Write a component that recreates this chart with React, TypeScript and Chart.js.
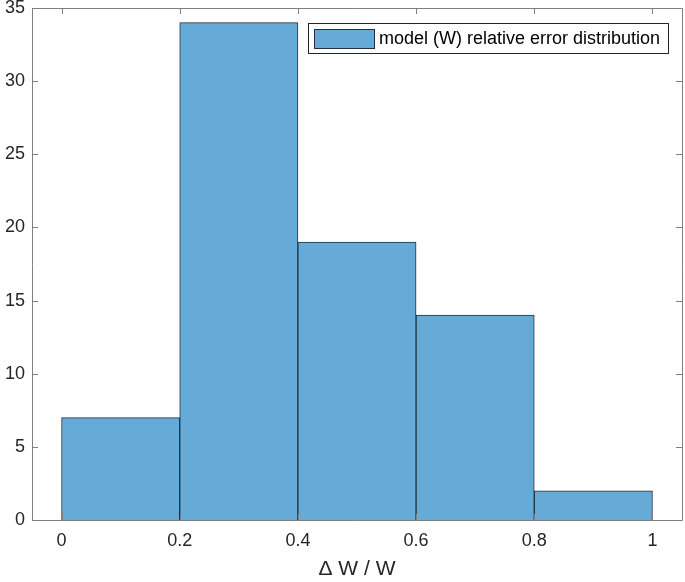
import React, { useEffect, useRef } from "react";
import { Chart, registerables } from "chart.js";

Chart.register(...registerables);

const binCenters = [0.1, 0.3, 0.5, 0.7, 0.9];
const binCounts = [7, 34, 19, 14, 2];
const xTickValues = [0, 0.2, 0.4, 0.6, 0.8, 1];
const xTickLabels = ["0", "0.2", "0.4", "0.6", "0.8", "1"];
const yTickValues = [0, 5, 10, 15, 20, 25, 30, 35];
const seriesLabel = "model (W) relative error distribution";
const xTitle = "\u0394 W / W";

const FONT = "'Liberation Sans', Arial, Helvetica, sans-serif";
const AXIS_COLOR = "#7f7f7f";
const TEXT_COLOR = "#262626";
const BAR_FILL = "#66aad7";
const BAR_EDGE = "#22313d";

const framePlugin = {
  id: "matlabFrame",
  afterDraw(chart: any) {
    const { ctx, chartArea } = chart;
    const { left, right, top, bottom } = chartArea;
    const xs = chart.scales.x;
    const ys = chart.scales.y;
    ctx.save();
    ctx.strokeStyle = AXIS_COLOR;
    ctx.lineWidth = 1;
    ctx.beginPath();
    ctx.rect(Math.round(left) + 0.5, Math.round(top) + 0.5, Math.round(right - left), Math.round(bottom - top));
    ctx.stroke();
    const tl = 6;
    ctx.beginPath();
    xTickValues.forEach((v) => {
      const px = Math.round(xs.getPixelForValue(v)) + 0.5;
      ctx.moveTo(px, bottom);
      ctx.lineTo(px, bottom - tl);
      ctx.moveTo(px, top);
      ctx.lineTo(px, top + tl);
    });
    yTickValues.forEach((v) => {
      const py = Math.round(ys.getPixelForValue(v)) + 0.5;
      ctx.moveTo(left, py);
      ctx.lineTo(left + tl, py);
      ctx.moveTo(right, py);
      ctx.lineTo(right - tl, py);
    });
    ctx.stroke();

    // legend box
    const ds = chart.data.datasets[0];
    const lx = 308.5, ly = 23.5, lw = 360, lh = 30;
    ctx.fillStyle = "#ffffff";
    ctx.fillRect(lx, ly, lw, lh);
    ctx.strokeStyle = "#262626";
    ctx.strokeRect(lx, ly, lw, lh);
    ctx.fillStyle = ds.backgroundColor;
    ctx.fillRect(314.5, 29.5, 60, 19);
    ctx.strokeStyle = ds.borderColor;
    ctx.strokeRect(314.5, 29.5, 60, 19);
    ctx.fillStyle = "#000000";
    ctx.font = `18px ${FONT}`;
    ctx.textBaseline = "middle";
    ctx.textAlign = "left";
    ctx.fillText(ds.label, 379, 39.5);
    ctx.restore();
  },
};

export default function App() {
  const ref = useRef<HTMLCanvasElement>(null);
  useEffect(() => {
    if (!ref.current) return;
    const chart = new Chart(ref.current, {
      type: "bar",
      data: {
        datasets: [
          {
            label: seriesLabel,
            data: binCenters.map((c, i) => ({ x: c, y: binCounts[i] })),
            backgroundColor: BAR_FILL,
            borderColor: BAR_EDGE,
            borderWidth: 1,
            barPercentage: 1,
            categoryPercentage: 1,
          },
        ],
      },
      options: {
        responsive: false,
        animation: false,
        layout: { padding: { left: 0, right: 3, top: 8, bottom: 0 } },
        plugins: { legend: { display: false }, tooltip: { enabled: false } },
        scales: {
          x: {
            type: "linear",
            min: -0.05,
            max: 1.05,
            offset: false,
            grid: { display: false, drawTicks: false },
            border: { display: false },
            afterBuildTicks: (s: any) => {
              s.ticks = xTickValues.map((v) => ({ value: v }));
            },
            afterFit: (s: any) => {
              s.height = 62;
              s.paddingLeft = 0;
              s.paddingRight = 0;
            },
            ticks: {
              padding: 10,
              color: TEXT_COLOR,
              font: { family: FONT, size: 18 },
              callback: (v: any) => {
                const i = xTickValues.indexOf(Number(v));
                return i >= 0 ? xTickLabels[i] : "";
              },
            },
            title: {
              display: true,
              text: xTitle,
              color: TEXT_COLOR,
              font: { family: FONT, size: 21 },
              padding: { top: 0, bottom: 0 },
            },
          },
          y: {
            min: 0,
            max: 35,
            grid: { display: false, drawTicks: false },
            border: { display: false },
            afterBuildTicks: (s: any) => {
              s.ticks = yTickValues.map((v) => ({ value: v }));
            },
            afterFit: (s: any) => {
              s.width = 32;
              s.paddingTop = 0;
              s.paddingBottom = 0;
            },
            ticks: {
              padding: 7,
              color: TEXT_COLOR,
              font: { family: FONT, size: 18 },
            },
          },
        },
      },
      plugins: [framePlugin],
    });
    return () => chart.destroy();
  }, []);
  return (
    <div style={{ position: "absolute", left: 0, top: 0, width: 685, height: 582 }}>
      <canvas ref={ref} width={685} height={582} style={{ width: 685, height: 582 }} />
    </div>
  );
}
